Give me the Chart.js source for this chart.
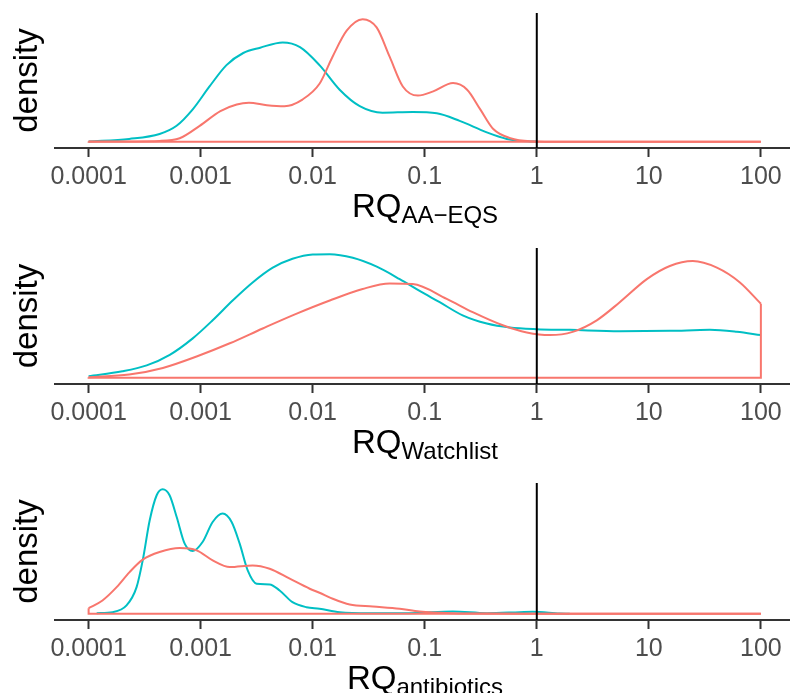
<!DOCTYPE html>
<html>
<head>
<meta charset="utf-8">
<script src="https://cdn.jsdelivr.net/npm/chart.js@4.4.0/dist/chart.umd.min.js"></script>
<style>
    body { margin: 0; background: #fff; }
    #page { position: relative; width: 790px; height: 693px; overflow: hidden; font-family: "Liberation Sans", Arial, sans-serif; }
    canvas { position: absolute; left: 0; }
    .xtitle { position: absolute; left: 55px; width: 740px; text-align: center; font-size: 33px; line-height: 33px; color: #000; white-space: nowrap; }
    .xtitle sub { font-size: 24px; vertical-align: -6px; line-height: 0; }
</style>
</head>
<body>
<div id="page">
    <canvas id="chart-aa" width="790" height="185" style="top:13px"></canvas>
    <canvas id="chart-wl" width="790" height="186" style="top:248px"></canvas>
    <canvas id="chart-ab" width="790" height="187" style="top:483px"></canvas>
    <div class="xtitle" style="top:189px">RQ<sub>AA−EQS</sub></div>
    <div class="xtitle" style="top:425px">RQ<sub>Watchlist</sub></div>
    <div class="xtitle" style="top:661px">RQ<sub>antibiotics</sub></div>
</div>

<script>
// Axis
var tickValues = [0.0001, 0.001, 0.01, 0.1, 1, 10, 100]
var tickLabels = ["0.0001", "0.001", "0.01", "0.1", "1", "10", "100"]
var thresholdRQ = 1
var xMin = Math.pow(10, -4.3)
var xMax = Math.pow(10, 2.26)

var redColor = "#F8766D"
var tealColor = "#00BFC4"

// RQ AA-EQS densities
var aaTealX = [0.0001, 0.00023, 0.00043, 0.00061, 0.00085, 0.0012, 0.0017, 0.0024, 0.0034, 0.0054, 0.0077, 0.0115, 0.0174, 0.0263, 0.042, 0.078, 0.128, 0.205, 0.358, 0.54, 0.705, 1]
var aaTealY = [0.003, 0.03, 0.08, 0.163, 0.33, 0.563, 0.78, 0.903, 0.957, 1.01, 0.963, 0.78, 0.53, 0.363, 0.297, 0.303, 0.29, 0.213, 0.097, 0.03, 0.01, 0.003]
var aaRedX = [0.0001, 0.00043, 0.00065, 0.00098, 0.0015, 0.0021, 0.0027, 0.0039, 0.0056, 0.0081, 0.0115, 0.015, 0.0201, 0.0279, 0.0372, 0.0487, 0.0637, 0.087, 0.119, 0.179, 0.239, 0.313, 0.409, 0.581, 0.875, 2, 10, 100]
var aaRedY = [0.003, 0.01, 0.037, 0.163, 0.313, 0.38, 0.397, 0.373, 0.363, 0.43, 0.59, 0.863, 1.13, 1.247, 1.163, 0.863, 0.563, 0.47, 0.513, 0.597, 0.53, 0.33, 0.13, 0.037, 0.007, 0.001, 0, 0]

// RQ Watchlist densities
var wlTealX = [0.0001, 0.0002, 0.00033, 0.00053, 0.00085, 0.00128, 0.00193, 0.00291, 0.0044, 0.0066, 0.01, 0.0142, 0.0228, 0.0373, 0.0598, 0.09, 0.136, 0.218, 0.358, 0.574, 1, 1.97, 5.5, 15.4, 35, 61, 100]
var wlTealY = [0.016, 0.066, 0.126, 0.233, 0.40, 0.583, 0.783, 0.966, 1.116, 1.206, 1.25, 1.253, 1.216, 1.126, 1.0, 0.88, 0.766, 0.633, 0.55, 0.51, 0.493, 0.486, 0.473, 0.476, 0.486, 0.466, 0.433]
var wlRedX = [0.0001, 0.00023, 0.00046, 0.00092, 0.00182, 0.00358, 0.0072, 0.0142, 0.0279, 0.0487, 0.078, 0.157, 0.268, 0.497, 0.814, 1.31, 2.09, 3.43, 5.5, 9.6, 15.4, 24.7, 40.5, 65, 100]
var wlRedY = [0.005, 0.033, 0.10, 0.216, 0.35, 0.50, 0.65, 0.783, 0.90, 0.956, 0.95, 0.80, 0.666, 0.533, 0.46, 0.433, 0.466, 0.583, 0.766, 1.0, 1.133, 1.183, 1.116, 0.966, 0.75]

// RQ antibiotics densities
var abTealX = [0.000118, 0.000164, 0.000218, 0.000268, 0.000304, 0.000351, 0.000405, 0.000458, 0.000528, 0.000611, 0.00072, 0.00085, 0.00104, 0.00128, 0.00157, 0.00189, 0.00223, 0.00263, 0.00316, 0.00413, 0.00507, 0.0066, 0.0088, 0.0115, 0.0174, 0.0323, 0.073, 0.178, 0.358, 0.705, 0.92, 1.6, 1.97]
var abTealY = [0.006, 0.016, 0.083, 0.266, 0.533, 0.933, 1.183, 1.243, 1.183, 0.966, 0.70, 0.626, 0.716, 0.916, 1.0, 0.916, 0.70, 0.433, 0.30, 0.293, 0.233, 0.116, 0.066, 0.05, 0.016, 0.006, 0.006, 0.023, 0.006, 0.016, 0.02, 0.003, 0]
var abRedX = [0.0001, 0.000133, 0.000178, 0.000232, 0.000304, 0.00043, 0.00065, 0.00092, 0.00128, 0.00182, 0.00291, 0.00413, 0.00624, 0.0094, 0.0115, 0.0151, 0.0214, 0.0344, 0.0598, 0.09, 0.178, 0.358, 1, 100]
var abRedY = [0.056, 0.133, 0.266, 0.416, 0.54, 0.616, 0.656, 0.633, 0.533, 0.466, 0.483, 0.45, 0.35, 0.25, 0.21, 0.15, 0.093, 0.073, 0.05, 0.023, 0.006, 0.002, 0.001, 0]

function curvePoints(xs, ys) {
    return xs.map((x, i) => ({ x: x, y: ys[i] }))
}

// outline of the density polygon: down at the right end, along the bottom, up at the left end
function closingPoints(xs, ys) {
    var n = xs.length - 1
    return [
        { x: xs[n], y: ys[n] },
        { x: xs[n], y: 0 },
        { x: xs[0], y: 0 },
        { x: xs[0], y: ys[0] }
    ]
}

function lineSet(points, color, order, smooth) {
    return {
        data: points,
        borderColor: color,
        borderWidth: 2,
        pointRadius: 0,
        fill: false,
        order: order,
        tension: 0,
        cubicInterpolationMode: smooth ? "monotone" : "default"
    }
}

function createPanel(canvasId, redX, redY, tealX, tealY) {
    var top = Math.max(Math.max(...redY), Math.max(...tealY))
    var yMin = -0.05 * top
    var yMax = 1.05 * top

    new Chart(document.getElementById(canvasId), {
        type: "line",
        data: {
            datasets: [
                lineSet([{ x: thresholdRQ, y: yMin }, { x: thresholdRQ, y: yMax }], "#000", 0, false),
                lineSet(curvePoints(redX, redY), redColor, 1, true),
                lineSet(closingPoints(redX, redY), redColor, 1, false),
                lineSet(curvePoints(tealX, tealY), tealColor, 2, true)
            ]
        },
        options: {
            responsive: false,
            animation: false,
            devicePixelRatio: 1,
            layout: { padding: 0 },
            plugins: { legend: { display: false }, tooltip: { enabled: false } },
            scales: {
                x: {
                    type: "logarithmic",
                    min: xMin,
                    max: xMax,
                    afterBuildTicks: (scale) => {
                        scale.ticks = tickValues.map(v => ({ value: v }))
                    },
                    afterFit: (scale) => { scale.height = 50 },
                    border: { display: true, color: "#333333", width: 2 },
                    grid: { display: true, drawOnChartArea: false, drawTicks: true, tickLength: 9, tickWidth: 2, tickColor: "#333333" },
                    ticks: {
                        autoSkip: false,
                        maxRotation: 0,
                        padding: 5,
                        color: "#4D4D4D",
                        font: { family: "'Liberation Sans', Arial, sans-serif", size: 25 },
                        callback: (value, index) => tickLabels[index]
                    }
                },
                y: {
                    min: yMin,
                    max: yMax,
                    afterFit: (scale) => { scale.width = 55 },
                    border: { display: false },
                    grid: { display: false },
                    ticks: { display: false },
                    title: {
                        display: true,
                        text: "density",
                        color: "#000",
                        padding: { top: 8, bottom: 2 },
                        font: { family: "'Liberation Sans', Arial, sans-serif", size: 33 }
                    }
                }
            }
        }
    })
}

function setup() {
    createPanel("chart-aa", aaRedX, aaRedY, aaTealX, aaTealY)
    createPanel("chart-wl", wlRedX, wlRedY, wlTealX, wlTealY)
    createPanel("chart-ab", abRedX, abRedY, abTealX, abTealY)
}

setup()
</script>
</body>
</html>
